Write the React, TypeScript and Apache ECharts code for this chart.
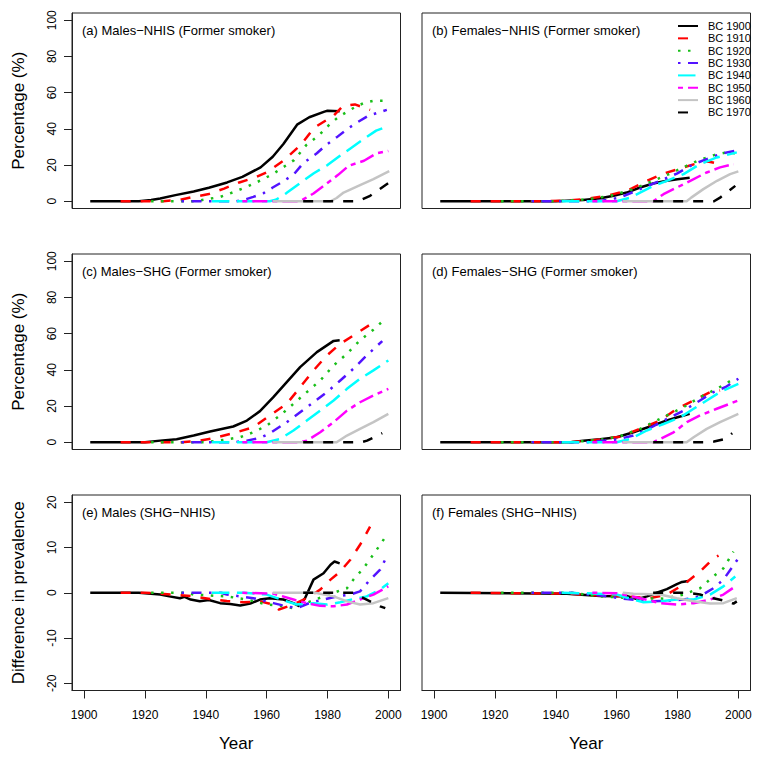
import React, { useEffect, useRef } from 'react';
import * as echarts from 'echarts';

// ---------- data ----------
const cohorts = ['BC 1900', 'BC 1910', 'BC 1920', 'BC 1930', 'BC 1940', 'BC 1950', 'BC 1960', 'BC 1970'];
const xTicks = [1900, 1920, 1940, 1960, 1980, 2000];
const yTicksPct = [0, 20, 40, 60, 80, 100];
const yTicksDiff = [-20, -10, 0, 10, 20];
const panelTitles = [
  '(a) Males\u2212NHIS (Former smoker)',
  '(b) Females\u2212NHIS (Former smoker)',
  '(c) Males\u2212SHG (Former smoker)',
  '(d) Females\u2212SHG (Former smoker)',
  '(e) Males (SHG\u2212NHIS)',
  '(f) Females (SHG\u2212NHIS)',
];

type Pt = [number, number];

const malesNHIS: Pt[][] = [
  [[1902, 0], [1918, 0], [1922, 0.7], [1925, 1.5], [1930, 3.4], [1936, 5.4], [1941, 7.5], [1947, 10.4], [1952, 13.5], [1958, 18.7], [1962, 24.6], [1965.5, 31.6], [1970, 42.3], [1974, 46.4], [1979, 49.5], [1980, 50], [1984, 49.7]],
  [[1912, 0], [1926, 0], [1932, 1], [1936, 2.4], [1941, 4], [1946, 7], [1951, 10.4], [1956, 13], [1960, 16], [1965.5, 22.4], [1971.5, 31.6], [1975.5, 40.5], [1982, 47.3], [1985, 52.5], [1989, 53.5], [1992, 51.7], [1994, 50.5]],
  [[1922, 0], [1936, 0], [1940, 1], [1944.7, 2.4], [1949, 5], [1953.5, 8], [1958, 11.5], [1962, 15], [1969, 22.7], [1973, 31], [1976.5, 35.5], [1979, 39.5], [1981, 43], [1984, 47], [1986.5, 49.5], [1989, 52], [1992, 54.3], [1995, 55.5], [1998.5, 55.6]],
  [[1932, 0], [1950, 0], [1953, 1], [1955.6, 2.4], [1959, 4.5], [1962, 7.6], [1965.5, 11], [1969, 15], [1972, 21], [1976.5, 26.5], [1979.5, 31], [1983, 35.3], [1986.5, 39.9], [1989.5, 43.3], [1993.5, 47.3], [1997.5, 49.4], [1999.5, 50.5]],
  [[1942, 0], [1961, 0], [1963, 0.8], [1966.5, 4.5], [1971, 10], [1975.5, 15.5], [1980, 20], [1984, 25], [1988, 29.7], [1992, 34.5], [1996, 39], [2000, 41.5]],
  [[1952, 0], [1970, 0], [1972, 1], [1975.4, 4.3], [1979.8, 9.8], [1983.5, 14.6], [1987, 19.6], [1992, 22.4], [1996, 26.4], [2000, 27.8]],
  [[1962, 0], [1981, 0], [1983, 1.8], [1985.3, 4.8], [1990.7, 8.9], [1995.1, 12.2], [2000.3, 16.6]],
  [[1972, 0], [1990, 0], [1994, 3], [2000, 10]],
];

const femalesNHIS: Pt[][] = [
  [[1902, 0], [1940, 0], [1949, 0.7], [1954.6, 1.7], [1959, 3], [1963.3, 4.8], [1967.7, 7.6], [1972, 9.8], [1976.5, 11.3], [1980, 12.2], [1984, 13]],
  [[1912, 0], [1935, 0], [1945, 0.5], [1950, 1.3], [1956.6, 3], [1963.3, 5.7], [1970, 11.3], [1975.4, 15.3], [1982, 18.7], [1987.4, 21.4], [1990, 22], [1994, 20.5]],
  [[1922, 0], [1940, 0], [1950, 1], [1958, 3], [1965.5, 6.7], [1972, 11.3], [1977.6, 15.3], [1983, 19.6], [1987, 22.7], [1992, 25.5], [1996, 27], [1999, 26.5]],
  [[1932, 0], [1950, 0], [1955, 0.3], [1961, 2], [1967.7, 6.7], [1974.3, 11.3], [1979.8, 15.3], [1985.3, 20.5], [1989.6, 23.3], [1994, 26.1], [1999, 27.9]],
  [[1942, 0], [1960, 0], [1964.4, 2], [1967.7, 4.8], [1972, 8.5], [1976.5, 11.3], [1982, 15], [1987.4, 20.5], [1992.9, 24.2], [1999.5, 27]],
  [[1952, 0], [1972, 0], [1975.4, 3.9], [1979.8, 7.6], [1984.2, 11.3], [1989.6, 15.9], [1994, 18.7], [1998.5, 20.5]],
  [[1962, 0], [1983, 0], [1984.5, 2], [1988.5, 6.7], [1993, 11.3], [1997.3, 15], [2000, 16.5]],
  [[1972, 0], [1992, 0], [1994, 2], [1999, 8.5]],
];

const malesSHG: Pt[][] = [
  [[1902, 0], [1920, 0], [1925, 0.9], [1930.4, 1.7], [1936, 3.7], [1941.4, 5.9], [1949, 8.7], [1953.5, 12], [1957.8, 17.2], [1962.2, 24.9], [1966.6, 33.2], [1971, 41.5], [1976.5, 49.8], [1982, 56], [1984, 56.3]],
  [[1912, 0], [1932, 0], [1938, 0.9], [1942.5, 2.2], [1949, 5], [1955.6, 8.3], [1961, 14.8], [1966.6, 21.2], [1971, 30.4], [1975.4, 39.7], [1979.8, 48], [1984.2, 54.4], [1988.5, 59], [1994.5, 65.5]],
  [[1922, 0], [1940, 0], [1945.8, 1.3], [1951.3, 2.8], [1955.6, 5.5], [1960, 9.2], [1964.4, 14.8], [1968.8, 21.2], [1973.2, 27.7], [1977.6, 34.1], [1982, 42.4], [1986.4, 48.9], [1990.7, 56.3], [1995.1, 62.2], [1998.4, 67.3]],
  [[1932, 0], [1949, 0], [1953.5, 0.9], [1957.8, 2.4], [1961.1, 5], [1966.6, 11.1], [1971, 16.6], [1975.4, 22.1], [1979.8, 27.7], [1984.2, 34.1], [1988.5, 40.6], [1992.9, 48], [1998, 55.9]],
  [[1942, 0], [1960, 0], [1964.4, 1.8], [1968.8, 6.5], [1973.2, 12], [1977.6, 17.5], [1982, 23.1], [1986.4, 29.5], [1990.7, 35.1], [1995.1, 39.7], [2000, 45.2]],
  [[1952, 0], [1971, 0], [1973.2, 0.9], [1977.6, 5.5], [1982, 11.1], [1986.4, 17.5], [1990.7, 22.1], [1995.1, 25.8], [2000, 29.5]],
  [[1962, 0], [1983, 0], [1986.4, 3.7], [1990.7, 7.4], [1995.1, 11.1], [2000, 15.7]],
  [[1972, 0], [1991, 0], [1993, 0.9], [1998, 5]],
];

const femalesSHG: Pt[][] = [
  [[1902, 0], [1945, 0], [1949, 0.9], [1954.6, 1.7], [1960, 2.8], [1965.5, 5.5], [1971, 8.7], [1976.5, 12], [1980, 13.8], [1984, 15.7]],
  [[1912, 0], [1945, 0], [1954.6, 1.5], [1961, 3.1], [1967.7, 7.4], [1974.3, 12], [1979.8, 18.5], [1985.3, 23.1], [1990.7, 27.7], [1994, 28.6]],
  [[1922, 0], [1945, 0], [1955, 1.5], [1961, 3.3], [1967.7, 7.4], [1976.5, 14.8], [1982, 19.4], [1987.4, 24.9], [1992.9, 29.5], [1996.2, 32.7], [1999, 35.5]],
  [[1932, 0], [1950, 0], [1960, 1.5], [1965.5, 3.7], [1971, 7.9], [1976.5, 12.9], [1982, 17.5], [1987.4, 23.1], [1991.8, 27.7], [1995.7, 30.4], [2000, 35.1]],
  [[1942, 0], [1960, 0], [1964.4, 1.8], [1969.9, 6.5], [1975.4, 10.1], [1980.9, 13.8], [1985.3, 18.5], [1989.6, 23.1], [1994, 27.7], [2000, 32.3]],
  [[1952, 0], [1972, 0], [1974.3, 1.8], [1978.7, 5.5], [1983.1, 11.1], [1987.4, 14.8], [1992.9, 18.5], [2000, 23.1]],
  [[1962, 0], [1983, 0], [1985.3, 2.8], [1989.6, 7.4], [1994, 11.1], [2000, 15.7]],
  [[1972, 0], [1990, 0], [1992, 0.4], [1995.7, 1.8], [1998, 5]],
];

const malesDiff: Pt[][] = [
  [[1902, 0], [1918, 0], [1925, -0.4], [1928, -0.8], [1931.5, -1.2], [1933, -0.9], [1935, -1.5], [1938, -1.9], [1941, -1.6], [1944.7, -2.3], [1948, -2.5], [1951.3, -2.8], [1954.6, -2.4], [1957.8, -1.5], [1961, -1.2], [1965.5, -1.5], [1968.8, -2.3], [1970.5, -2.9], [1972.6, -1.2], [1975.4, 2.9], [1978.7, 4.3], [1981, 6.2], [1982.3, 6.9], [1984, 6.5]],
  [[1912, 0], [1920, 0], [1925, -0.2], [1936, -0.8], [1941.4, -1.4], [1946.9, -1.8], [1952.4, -2.1], [1957.8, -1.9], [1962.2, -2.6], [1964, -3.7], [1968.8, -2.6], [1973.2, -1.2], [1977.6, 0.7], [1981, 2.9], [1984.2, 4.7], [1987.5, 7.3], [1990.7, 10.6], [1994, 14.6]],
  [[1922, 0], [1934, 0], [1936, -0.4], [1946.9, -0.8], [1953.5, -1.5], [1960, -2.6], [1964.4, -2.9], [1968.8, -3.4], [1973.2, -2.2], [1977.6, -1.1], [1982, 0], [1986.4, 1], [1988.5, 2.9], [1991.8, 5.4], [1994.6, 8], [1997.3, 10.6], [1999.5, 12.8]],
  [[1932, 0], [1945, 0], [1946.9, -0.4], [1955.6, -1.2], [1962.2, -2.3], [1966.6, -3], [1969.9, -3.4], [1974.3, -2.2], [1978.7, -1.5], [1983.1, -0.8], [1987.5, -0.4], [1990.7, 0.3], [1994, 2.9], [1997.3, 5.1], [1999.5, 8]],
  [[1942, 0], [1952.4, 0], [1960, -0.4], [1966.6, -1.9], [1969.9, -2.6], [1975.4, -2.3], [1979.8, -2.6], [1984.2, -2.1], [1988.5, -1.4], [1992.9, -0.8], [1997.3, 0.7], [2000, 2.1]],
  [[1952, 0], [1962.2, -0.2], [1968.8, -1.5], [1973.2, -2.3], [1977.6, -2.9], [1982, -3], [1986.4, -2.6], [1990.7, -1.5], [1995.1, -0.4], [2000, 1.4]],
  [[1962, 0], [1976, 0], [1977.6, -0.2], [1982, -0.8], [1986.4, -1.9], [1990.7, -2.6], [1995.1, -2.3], [2000, -1.2]],
  [[1972, 0], [1988.5, 0], [1990.7, -0.8], [1994, -1.9], [1997.3, -3], [1999, -3.4]],
];

const femalesDiff: Pt[][] = [
  [[1902, 0], [1943.6, -0.2], [1954.6, -0.7], [1960, -0.8], [1963.3, -0.7], [1966.6, -1.4], [1970, -0.8], [1973.2, 0], [1976.5, 0.8], [1979.8, 1.9], [1981.5, 2.4], [1983.6, 2.6]],
  [[1912, 0], [1943.6, -0.2], [1954.6, -0.6], [1963.3, -0.8], [1971, -1.2], [1976.5, -0.4], [1982, 1.8], [1987.4, 4.7], [1991.8, 7.6], [1993.5, 8.2]],
  [[1922, 0], [1945, 0], [1954.6, -0.8], [1965.5, -1.2], [1975.4, -1.3], [1982, -0.4], [1987.4, 1], [1991.8, 3.6], [1995.1, 5.4], [1998.4, 9.1]],
  [[1932, 0], [1945, 0], [1954.6, -0.6], [1963.3, -1.4], [1971, -1.9], [1976.5, -1.8], [1982, -1.5], [1987.4, -0.8], [1991.8, 1], [1995.1, 2.9], [1999.7, 7.3]],
  [[1942, 0], [1954, -0.2], [1960, -0.4], [1965.5, -1.5], [1968.8, -2.1], [1974.3, -1.9], [1979.8, -1.5], [1985.3, -1.5], [1990.7, -0.4], [1995.1, 1.4], [1999, 3.6]],
  [[1952, 0], [1960, -0.1], [1967.7, -1.2], [1974.3, -2.3], [1979.8, -2.6], [1985.3, -2.3], [1990.7, -1.5], [1995.1, -0.4], [1999, 1.4]],
  [[1962, 0], [1965.5, -0.2], [1974.3, -0.4], [1979.8, -1.2], [1985.3, -1.9], [1990.7, -2.4], [1995.1, -2.3], [1999.5, -1.2]],
  [[1972, 0], [1983.1, 0], [1987.4, -0.4], [1991.8, -1.2], [1996.2, -1.9], [1998.4, -2.4], [1999.5, -1.9]],
];

// ---------- styles ----------
const colors = ['#000000', '#ff0000', '#19bf19', '#5313ff', '#00ffff', '#ff00ff', '#c4c4c4', '#000000'];
const dashes: (number[] | 'solid')[] = ['solid', [10, 10], [2.5, 7.5], [2.5, 7.5, 10, 7.5], [17.5, 7.5], [5, 5, 15, 5], 'solid', [10, 10]];
const LINE_W = 2.5;

const COL_LEFT = [72, 422];
const GRID_W = 328.5;
const ROW_TOP = [13, 254, 495];
const GRID_H = 195.5;
const FONT = '"Liberation Sans", Arial, Helvetica, sans-serif';

export default function App() {
  const ref = useRef<HTMLDivElement>(null);

  useEffect(() => {
    if (!ref.current) return;
    const chart = echarts.init(ref.current, undefined, { renderer: 'svg' });
    const panels = [malesNHIS, femalesNHIS, malesSHG, femalesSHG, malesDiff, femalesDiff];

    const grids: any[] = [];
    const xAxes: any[] = [];
    const yAxes: any[] = [];
    const titles: any[] = [];
    const series: any[] = [];

    panels.forEach((panel, i) => {
      const row = Math.floor(i / 2);
      const col = i % 2;
      const isBottom = row === 2;
      const isLeft = col === 0;
      const isDiff = row === 2;
      grids.push({
        left: COL_LEFT[col], top: ROW_TOP[row], width: GRID_W, height: GRID_H,
        show: true, borderColor: '#222', borderWidth: 1, backgroundColor: 'transparent',
        containLabel: false,
      });
      xAxes.push({
        type: 'value', gridIndex: i, min: 1896, max: 2004,
        splitLine: { show: false },
        axisLine: { show: isBottom, onZero: false, lineStyle: { color: '#222', width: 1 } },
        axisTick: { show: isBottom, customValues: xTicks, length: 8, lineStyle: { color: '#222' } },
        axisLabel: {
          show: isBottom, customValues: xTicks, fontSize: 12, color: '#000', margin: 18, fontFamily: FONT,
          formatter: (v: number) => String(v),
        },
        name: isBottom ? 'Year' : '',
        nameLocation: 'middle', nameGap: 44,
        nameTextStyle: { fontSize: 17, color: '#000', fontFamily: FONT },
      });
      const yt = isDiff ? yTicksDiff : yTicksPct;
      yAxes.push({
        type: 'value', gridIndex: i,
        min: isDiff ? -21.6 : -4, max: isDiff ? 21.6 : 104,
        splitLine: { show: false },
        axisLine: { show: isLeft, onZero: false, lineStyle: { color: '#222', width: 1 } },
        axisTick: { show: isLeft, customValues: yt, length: 8, lineStyle: { color: '#222' } },
        axisLabel: {
          show: isLeft, customValues: yt, rotate: 90, fontSize: 12, color: '#000', margin: 14, fontFamily: FONT,
          formatter: (v: number) => String(v),
        },
        name: isLeft ? (isDiff ? 'Difference in prevalence' : 'Percentage (%)') : '',
        nameLocation: 'middle', nameRotate: 90, nameGap: 45,
        nameTextStyle: { fontSize: 17, color: '#000', fontFamily: FONT },
      });
      titles.push({
        text: panelTitles[i],
        left: COL_LEFT[col] + 10,
        top: ROW_TOP[row] + 11,
        padding: 0,
        textStyle: { fontSize: 13, fontWeight: 'normal', color: '#000', fontFamily: FONT },
      });
      panel.forEach((data, k) => {
        series.push({
          type: 'line', name: cohorts[k], xAxisIndex: i, yAxisIndex: i,
          data, symbol: 'none', showSymbol: false, silent: true, clip: true,
          lineStyle: { color: colors[k], width: LINE_W, type: dashes[k], cap: 'butt', join: 'round' },
          itemStyle: { color: colors[k] },
        });
      });
    });

    chart.setOption({
      animation: false,
      backgroundColor: '#ffffff',
      textStyle: { fontFamily: FONT },
      title: titles,
      grid: grids,
      xAxis: xAxes,
      yAxis: yAxes,
      legend: {
        data: cohorts,
        orient: 'vertical',
        left: 677, top: 20,
        itemWidth: 20, itemHeight: 12, itemGap: 0.35,
        padding: 0,
        selectedMode: false,
        itemStyle: { opacity: 0 },
        textStyle: { fontSize: 11, color: '#000', fontFamily: FONT, padding: [0, 0, 0, 5], lineHeight: 12 },
      },
      series,
    });
    return () => chart.dispose();
  }, []);

  return <div ref={ref} style={{ position: 'fixed', left: 0, top: 0, width: 762, height: 760 }} />;
}
